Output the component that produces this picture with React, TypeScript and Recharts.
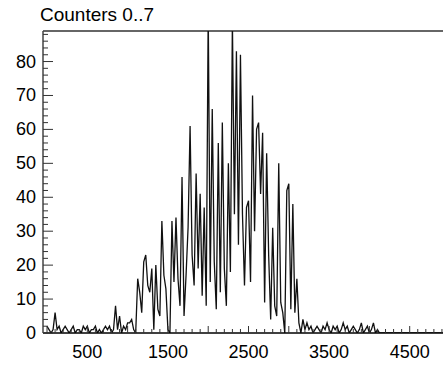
import React from 'react';
import { LineChart, Line, XAxis, YAxis, ReferenceLine } from 'recharts';

// histogram bins, 25 units wide, starting at 0
const BIN_WIDTH = 25;

const lowTail = [
  2, 1, 0, 1, 6, 1, 2, 0, 1, 2, 1, 0, 1, 2, 0, 1, 1, 0, 2, 1, 2,
  0, 1, 1, 2, 0, 1, 0, 1, 2, 1, 2, 0, 1, 8, 1, 5, 0, 2, 1, 3,
];
const riseCounts = [
  3, 4, 1, 0, 16, 12, 6, 21, 23, 14, 12, 19, 1, 20, 7, 5, 33, 17, 13, 1,
  0, 33, 15, 34, 16, 8, 46, 5, 17, 31,
];
const peakCounts = [
  61, 23, 14, 47, 19, 41, 11, 37, 8, 95, 15, 66, 21, 7, 56, 12, 62, 19, 8,
  50, 18, 92, 35, 83, 26, 82, 35,
];
const fallCounts = [
  14, 37, 39, 15, 70, 30, 60, 62, 41, 59, 9, 53, 23, 4, 31, 8, 5, 50, 9, 6,
  0, 42, 44, 7, 38, 6, 16, 3, 0,
];
const highTail = [
  4, 1, 3, 1, 2, 0, 1, 2, 1, 0, 2, 1, 3, 1, 0, 2, 1, 2, 0, 1, 3, 1, 2, 0,
  1, 2, 1, 0, 1, 3, 0, 1, 2, 0, 1, 3, 0, 1, 0, 0, 0, 0, 0, 0, 0, 0, 0, 0,
  0, 0, 0, 0, 0, 0, 0, 0, 0, 0, 0, 0, 0, 0, 0, 0, 0, 0, 0, 0, 0, 0, 0, 0,
  0, 0,
];

const counts = [...lowTail, ...riseCounts, ...peakCounts, ...fallCounts, ...highTail];
const data = counts.map((c, i) => ({ x: i * BIN_WIDTH, c }));

const xTicks = Array.from({ length: 51 }, (_, i) => i * 100);
const xLabels = [500, 1500, 2500, 3500, 4500];
const yTicks = Array.from({ length: 45 }, (_, i) => i * 2);
const yLabels = [0, 10, 20, 30, 40, 50, 60, 70, 80];

const FONT = "'Liberation Sans', Arial, sans-serif";

const YTick = (props: any) => {
  const { x, y, payload } = props;
  const v = payload.value;
  const major = v % 10 === 0;
  return (
    <g>
      <line x1={x} x2={x + (major ? 10 : 5)} y1={y} y2={y} stroke="#333" strokeWidth={1} />
      {yLabels.includes(v) && (
        <text x={x - 7} y={y} textAnchor="end" dominantBaseline="central"
          fontFamily={FONT} fontSize={18} fill="#000">{v}</text>
      )}
    </g>
  );
};

const XTick = (props: any) => {
  const { x, y, payload } = props;
  const v = payload.value;
  const major = v % 500 === 0;
  return (
    <g>
      <line x1={x} x2={x} y1={y} y2={y - (major ? 7 : 4)} stroke="#333" strokeWidth={1} />
      {xLabels.includes(v) && (
        <text x={x} y={y + 25} textAnchor="middle"
          fontFamily={FONT} fontSize={18} fill="#000">{v}</text>
      )}
    </g>
  );
};

export default function App() {
  return (
    <div style={{ position: 'fixed', left: 0, top: 0, width: 443, height: 365, overflow: 'hidden', background: '#fff' }}>
      <div style={{ position: 'absolute', left: 40, top: 5, fontFamily: FONT, fontSize: 19, lineHeight: 1, color: '#000' }}>
        Counters 0..7
      </div>
      <LineChart width={450} height={365} data={data} margin={{ top: 31, right: 0, bottom: 0, left: 0 }}>
        <XAxis type="number" dataKey="x" domain={[-50, 5000]} allowDataOverflow ticks={xTicks}
          interval={0} tickSize={0} tickMargin={0} height={32} tick={<XTick />}
          axisLine={{ stroke: '#000', strokeWidth: 1.5 }} />
        <YAxis type="number" domain={[0, 89]} allowDataOverflow ticks={yTicks}
          interval={0} tickSize={0} tickMargin={0} width={43} tick={<YTick />}
          axisLine={{ stroke: '#444', strokeWidth: 1.5 }} />
        <ReferenceLine y={89} stroke="#666" strokeWidth={2} />
        <Line type="linear" dataKey="c" stroke="#111" strokeWidth={1.3} dot={false} isAnimationActive={false} />
      </LineChart>
    </div>
  );
}
